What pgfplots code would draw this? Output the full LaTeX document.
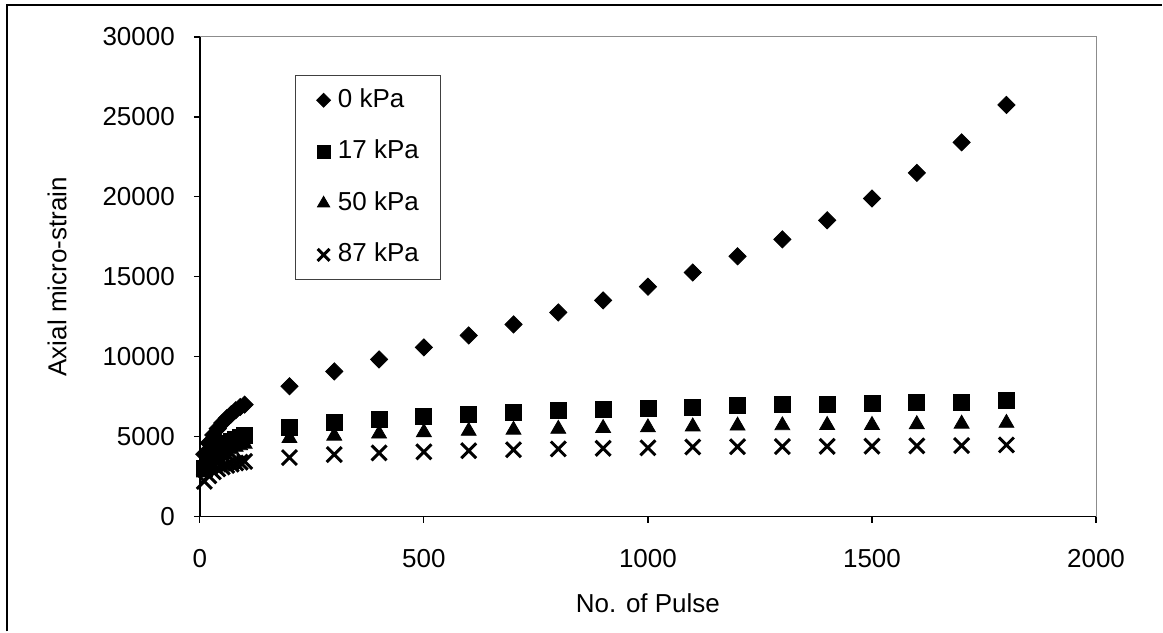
\documentclass[border=0pt]{standalone}
\usepackage{fontspec}
\setmainfont{Liberation Sans}
\usepackage{pgfplots}
\pgfplotsset{compat=1.18}
\usepackage{pgfplotstable}

\pgfplotstableread{
x     p0     p17   p50   p87
10    3900   3000  2750  2200
20    4600   3450  3150  2550
30    5100   3800  3450  2800
40    5500   4100  3700  2980
50    5850   4350  3900  3100
60    6150   4550  4050  3200
70    6400   4700  4200  3280
80    6650   4850  4350  3350
90    6850   4950  4450  3400
100   7000   5050  4550  3450
200   8150   5570  4900  3690
300   9080   5880  5050  3880
400   9830   6070  5180  3980
500   10580  6260  5270  4050
600   11330  6385  5350  4120
700   12020  6510  5420  4180
800   12770  6640  5480  4230
900   13520  6700  5530  4270
1000  14380  6760  5570  4300
1100  15270  6820  5630  4350
1200  16280  6950  5680  4370
1300  17340  7010  5700  4380
1400  18530  7010  5720  4390
1500  19900  7070  5720  4400
1600  21500  7140  5770  4420
1700  23410  7170  5800  4440
1800  25750  7260  5850  4480
}\strain

\newcommand{\lbl}{\fontsize{13}{15}\selectfont}

\begin{document}
\begin{tikzpicture}
\begin{axis}[
  scale only axis, width=448.5pt, height=240pt,
  xmin=0, xmax=2000, ymin=0, ymax=30000,
  xtick={0,500,...,2000}, ytick={0,5000,...,30000},
  scaled ticks=false,
  /pgf/number format/1000 sep={},
  /pgf/number format/assume math mode=true,
  axis lines=left, axis line style={-, line width=0.75pt, black},
  tick align=outside, major tick length=3pt,
  tick style={black, line width=0.6pt},
  ticklabel style={font=\lbl},
  yticklabel style={xshift=-6pt},
  xticklabel style={yshift=-10pt},
  xlabel={No. of Pulse}, ylabel={Axial micro-strain},
  label style={font=\lbl},
  xlabel style={at={(axis description cs:0.5,-0.18125)}, anchor=center},
  ylabel style={at={(axis description cs:-0.1594,0.5)}, anchor=center},
  clip=false,
  legend cell align=left,
  legend image code/.code={\draw[#1, every mark/.append style={scale=0.8}] plot coordinates {(0pt,0pt)}; \path[draw=none,fill=none] (-4.2pt,-4.2pt) rectangle (4.2pt,4.2pt);},
  legend style={at={(0.1059,0.9208)}, anchor=north west, draw=black!75, line width=0.5pt,
    font=\lbl, inner xsep=10pt, inner ysep=5.5pt, row sep=12pt, column sep=2pt,
    nodes={inner sep=1pt, text height=9.3pt, text depth=2.5pt}},
]
\addplot[only marks, mark=diamond*, mark size=4.3pt, mark options={xscale=1.333, black}] table[x=x,y=p0] {\strain};
\addplot[only marks, mark=square*, mark size=4pt, mark options={black}] table[x=x,y=p17] {\strain};
\addplot[only marks, mark=triangle*, mark size=4.3pt, mark options={black}] table[x=x,y=p50] {\strain};
\addplot[only marks, mark=x, mark size=5.3pt, mark options={black, line width=1.5pt}] table[x=x,y=p87] {\strain};
\legend{0 kPa,17 kPa,50 kPa,87 kPa}
\draw[black!45, line width=0.5pt] (rel axis cs:0,1) -- (rel axis cs:1,1) -- (rel axis cs:1,0);
\end{axis}
\draw[black, line width=1pt] (-96.5pt,-57.5pt) -- (-96.5pt,256pt) -- (481.5pt,256pt);
\useasboundingbox (-100pt,-57.5pt) rectangle (481.5pt,258.5pt);
\end{tikzpicture}
\end{document}
